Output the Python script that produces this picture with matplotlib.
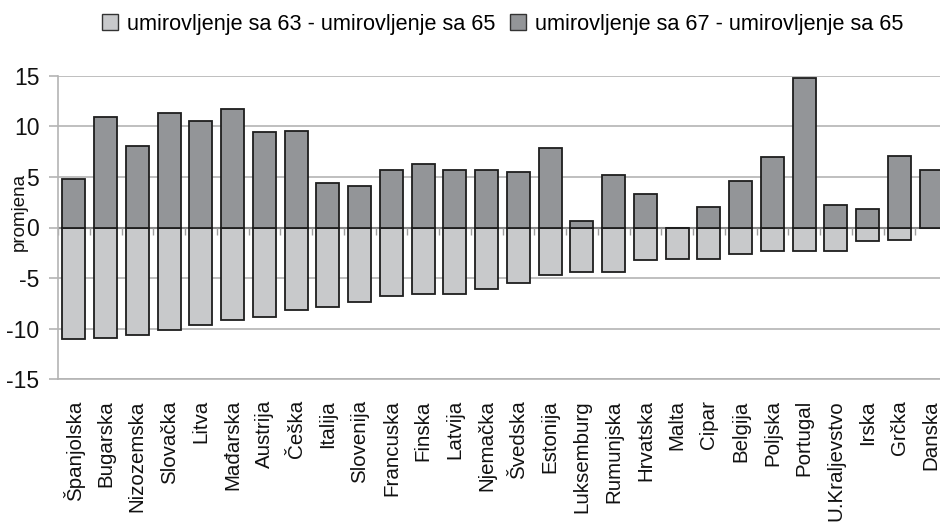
import numpy as np
import matplotlib
matplotlib.use("Agg")
import matplotlib.pyplot as plt
from matplotlib.patches import Patch

# === podaci ===
drzave = ["Španjolska", "Bugarska", "Nizozemska", "Slovačka", "Litva", "Mađarska",
          "Austrija", "Češka", "Italija", "Slovenija", "Francuska", "Finska", "Latvija",
          "Njemačka", "Švedska", "Estonija", "Luksemburg", "Rumunjska", "Hrvatska",
          "Malta", "Cipar", "Belgija", "Poljska", "Portugal", "U.Kraljevstvo", "Irska",
          "Grčka", "Danska"]
ret63 = [-11.0, -10.9, -10.6, -10.1, -9.6, -9.1, -8.8, -8.2, -7.9, -7.4, -6.8, -6.6, -6.6,
         -6.1, -5.5, -4.7, -4.4, -4.4, -3.2, -3.1, -3.1, -2.6, -2.3, -2.3, -2.3, -1.3,
         -1.2, 0.0]
ret67 = [4.8, 10.9, 8.1, 11.3, 10.5, 11.7, 9.4, 9.5, 4.4, 4.1, 5.7, 6.3, 5.7,
         5.7, 5.5, 7.9, 0.6, 5.2, 3.3, 0.0, 2.0, 4.6, 7.0, 14.8, 2.2, 1.8,
         7.1, 5.7]
y_ticks = [15, 10, 5, 0, -5, -10, -15]
legend_labels = ["umirovljenje sa 63 - umirovljenje sa 65",
                 "umirovljenje sa 67 - umirovljenje sa 65"]

# boje
LIGHT = "#c8c9cb"
DARK = "#939598"
EDGE = "#1e1e1e"
GRID = "#b4b4b4"

FONT = ["Liberation Sans", "DejaVu Sans"]

fig = plt.figure(figsize=(9.40, 5.23), dpi=100)
ax = fig.add_axes([58 / 940, 1 - 379.3 / 523, 882 / 940, 303.6 / 523])

x = np.arange(len(drzave))
ax.bar(x, ret63, width=0.72, color=LIGHT, edgecolor=EDGE, linewidth=1.3, zorder=3)
ax.bar(x, ret67, width=0.72, color=DARK, edgecolor=EDGE, linewidth=1.3, zorder=3)

# os nula s kratkim crticama između kategorija
ax.axhline(0, color="#8a8a8a", lw=1.5, zorder=2)
ax.vlines(np.arange(len(drzave) + 1) - 0.5, -0.7, 0, color="#a0a0a0", lw=1, zorder=2)

ax.set_ylim(-15, 15)
ax.set_xlim(-0.5, -0.5 + 882 / 31.75)
ax.set_yticks(y_ticks)
ax.set_yticklabels([str(v) for v in y_ticks], family=FONT, fontsize=16.5)
ax.yaxis.grid(True, color=GRID, lw=1.2, zorder=0)
ax.tick_params(axis="y", length=6.5, width=1.2, color=GRID, pad=7, labelcolor="#111111")

ax.set_xticks(x)
ax.set_xticklabels(drzave, rotation=90, family=FONT, fontsize=14.8, color="#111111")
ax.tick_params(axis="x", length=0, pad=15)

for s in ["top", "right"]:
    ax.spines[s].set_visible(False)
ax.spines["left"].set_color(GRID)
ax.spines["left"].set_linewidth(1.2)
ax.spines["bottom"].set_color(GRID)
ax.spines["bottom"].set_linewidth(1.2)

fig.text(19 / 940, 1 - 212 / 523, "promjena", rotation=90, ha="center", va="center",
         family=FONT, fontsize=13.5, color="#111111")

handles = [Patch(facecolor=LIGHT, edgecolor="#333333", lw=1),
           Patch(facecolor=DARK, edgecolor="#333333", lw=1)]
fig.legend(handles, legend_labels, loc="center", bbox_to_anchor=(0.5346, 0.954), ncol=2,
           frameon=False, prop={"family": FONT, "size": 15.6},
           handlelength=0.75, handleheight=0.7, handletextpad=0.4, columnspacing=0.7,
           borderpad=0, borderaxespad=0)

fig.savefig("out.png", dpi=100)
